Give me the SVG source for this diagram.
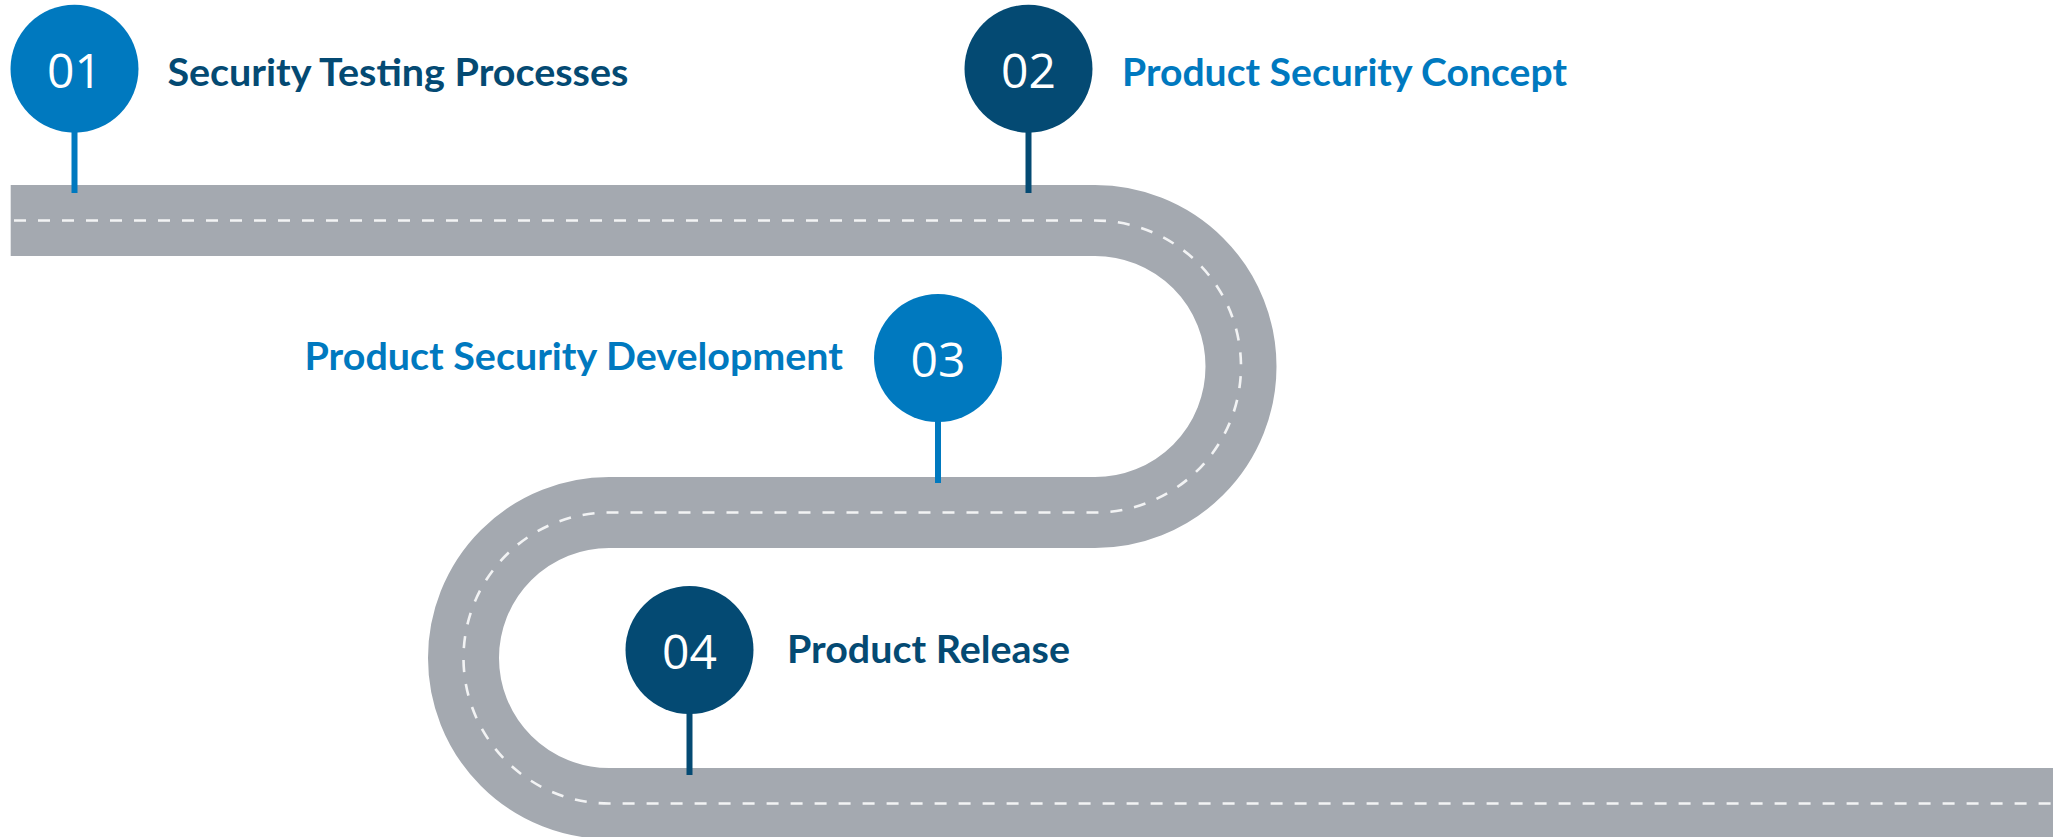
<svg xmlns="http://www.w3.org/2000/svg" width="2060" height="837" viewBox="0 0 2060 837">
  <style>
    .road { fill: none; stroke: #A4A9B0; stroke-width: 71; stroke-linecap: butt; stroke-linejoin: round; }
    .lane { fill: none; stroke: #F2F3F4; stroke-width: 2.6; stroke-dasharray: 12 12; }
    .num { font-family: "Open Sans", "Liberation Sans", sans-serif; font-size: 48px; fill: #FFFFFF; text-anchor: middle; }
    .label { font-family: Lato, "Liberation Sans", sans-serif; font-weight: bold; font-size: 38px; }
    .light { fill: #0079BF; }
    .dark { fill: #044A73; }
    .pin-light { stroke: #0079BF; stroke-width: 6; }
    .pin-dark { stroke: #044A73; stroke-width: 6; }
  </style>

  <!-- winding road -->
  <g id="road">
    <path class="road" d="M 10.7 220.5 H 1095 A 146 146 0 0 1 1095 512.5 H 609 A 145.5 145.5 0 0 0 609 803.5 H 2053"/>
    <path class="lane" d="M 14 220.5 H 1095 A 146 146 0 0 1 1095 512.5 H 609 A 145.5 145.5 0 0 0 609 803.5 H 2053"/>
  </g>

  <!-- pins joining each milestone to the road -->
  <g id="connectors">
    <line class="pin-light" x1="74.5" y1="130" x2="74.5" y2="193"/>
    <line class="pin-dark" x1="1028.5" y1="130" x2="1028.5" y2="193"/>
    <line class="pin-light" x1="938" y1="419" x2="938" y2="483"/>
    <line class="pin-dark" x1="689.5" y1="711" x2="689.5" y2="775"/>
  </g>

  <g id="step-01">
    <circle class="light" cx="74.5" cy="68.7" r="64"/>
    <text class="num" x="74.5" y="87.5">01</text>
    <text class="label dark" x="167.4" y="86" textLength="461" lengthAdjust="spacingAndGlyphs">Security Testing Processes</text>
  </g>

  <g id="step-02">
    <circle class="dark" cx="1028.5" cy="68.7" r="64"/>
    <text class="num" x="1028.5" y="87.5">02</text>
    <text class="label light" x="1122" y="86" textLength="445" lengthAdjust="spacingAndGlyphs">Product Security Concept</text>
  </g>

  <g id="step-03">
    <circle class="light" cx="938" cy="358" r="64"/>
    <text class="num" x="938" y="376.5">03</text>
    <text class="label light" x="304.5" y="370" textLength="538.5" lengthAdjust="spacingAndGlyphs">Product Security Development</text>
  </g>

  <g id="step-04">
    <circle class="dark" cx="689.5" cy="650" r="64"/>
    <text class="num" x="689.5" y="668.5">04</text>
    <text class="label dark" x="787" y="663" textLength="283" lengthAdjust="spacingAndGlyphs">Product Release</text>
  </g>
</svg>
